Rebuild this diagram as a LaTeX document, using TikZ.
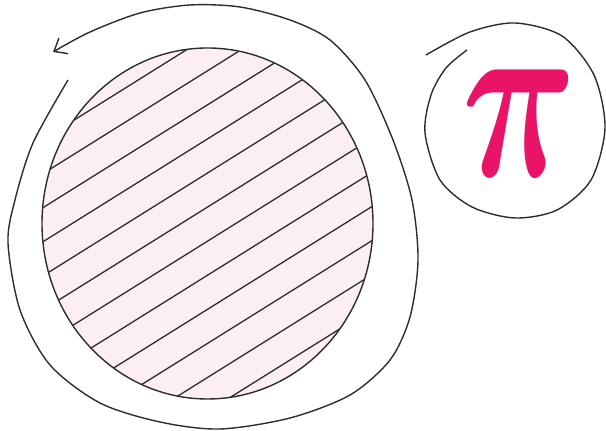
\documentclass[tikz,border=0pt]{standalone}
\usepackage{bm}
\usetikzlibrary{arrows.meta}
\definecolor{piPink}{RGB}{233,20,104}
\definecolor{diskFill}{RGB}{252,239,241}
\definecolor{inkGray}{RGB}{45,45,45}

\begin{document}
\begin{tikzpicture}[x=0.5pt,y=-0.5pt,
  ink/.style={draw=inkGray,line width=0.7pt},
  hatch/.style={draw=inkGray,line width=0.65pt}]
  \useasboundingbox (0,0) rectangle (606,431);
  % shaded disk
  \coordinate (diskC) at (207.5,223.5);
  \fill[diskFill] (diskC) ellipse [x radius=165.5, y radius=175.5];
  \begin{scope}
    \clip (diskC) ellipse [x radius=165.5, y radius=175.5];
    \foreach \k in {0,...,11}{
      \pgfmathsetmacro\off{141.1+28.9*\k}
      \draw[hatch] ({\off*0.53-360*0.848},{\off*0.848+360*0.53})
        -- ({\off*0.53+360*0.848},{\off*0.848-360*0.53});
    }
  \end{scope}
  \draw[ink] (diskC) ellipse [x radius=165.5, y radius=175.5];
  % loop round the disk
  \draw[ink,-{Straight Barb[length=5.5pt,width=9pt]}] plot[smooth] coordinates {
    (68,80) (33,143) (15,200) (8,243) (20,310) (50,365) (100,403)
    (160,422) (220,429) (290,418) (350,395) (390,360) (410,317)
    (418,260) (412,200) (393,140) (365,80) (330,40) (290,20) (240,7)
    (190,5) (140,13) (90,32) (53,52)};
  % pi and its loop
  \node[text=piPink,inner sep=0pt,xscale=7.95,yscale=12] (piSym) at (520,123) {$\bm{\pi}$};
  \draw[ink] plot[smooth] coordinates {
    (426,55) (470,32) (515,23) (562,36) (594,75) (605,128) (591,180)
    (557,210) (515,218) (472,207) (440,180) (425,133) (431,95)
    (446,68) (467,50)};
\end{tikzpicture}
\end{document}
